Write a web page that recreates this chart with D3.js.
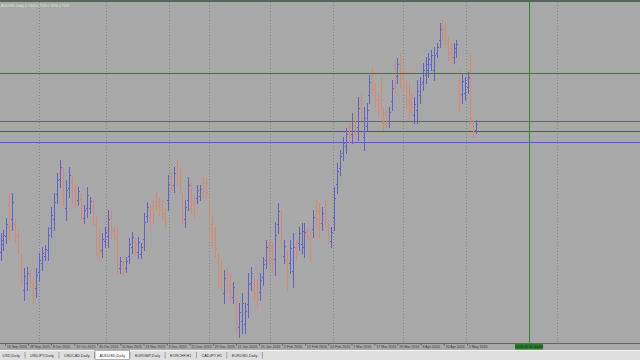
<!DOCTYPE html>
<html>
<head>
<meta charset="utf-8">
<script src="https://cdn.jsdelivr.net/npm/d3@7"></script>
<style>
html, body { margin: 0; padding: 0; background: #a8a8a8; overflow: hidden; }
svg { display: block; }
</style>
</head>
<body>
<svg id="chart" width="640" height="360"></svg>
<script>
// AUDUSD daily bars
var bar_open = [.7094,.7119,.7145,.7244,.7199,.7183,.7145,.7068,.6972,.6994,
 .7023,.6991,.6978,.7030,.7058,.7081,.7100,.7170,.7199,.7279,
 .7327,.7334,.7234,.7298,.7318,.7295,.7260,.7263,.7202,.7234,
 .7234,.7241,.7180,.7142,.7100,.7129,.7145,.7206,.7164,.7135,
 .7042,.7055,.7042,.7081,.7110,.7126,.7094,.7087,.7135,.7209,
 .7225,.7241,.7270,.7254,.7244,.7218,.7260,.7334,.7308,.7369,
 .7343,.7260,.7199,.7260,.7292,.7254,.7266,.7273,.7318,.7314,
 .7228,.7183,.7151,.7062,.7046,.6962,.7023,.7004,.6950,.6921,
 .6854,.6873,.6863,.6927,.6994,.6994,.6982,.6966,.7014,.7068,
 .7113,.7100,.7071,.7183,.7199,.7081,.7068,.7058,.7033,.7116,
 .7122,.7119,.7110,.7164,.7142,.7167,.7238,.7225,.7186,.7238,
 .7177,.7129,.7206,.7311,.7362,.7410,.7433,.7490,.7471,.7503,
 .7494,.7580,.7462,.7498,.7596,.7663,.7615,.7583,.7628,.7538,
 .7535,.7513,.7577,.7682,.7657,.7702,.7663,.7622,.7606,.7586,
 .7532,.7548,.7596,.7638,.7660,.7676,.7695,.7676,.7730,.7772,
 .7820,.7807,.7762,.7746,.7718,.7734,.7644,.7599,.7602,.7622,
 .7676,.7503,.7484];
var bar_high = [.7154,.7164,.7202,.7282,.7282,.7202,.7164,.7090,.7042,.7046,
 .7036,.7014,.7042,.7090,.7110,.7116,.7174,.7238,.7282,.7346,
 .7388,.7366,.7324,.7366,.7340,.7314,.7302,.7282,.7244,.7302,
 .7270,.7260,.7212,.7164,.7154,.7174,.7228,.7228,.7174,.7174,
 .7078,.7068,.7078,.7138,.7158,.7138,.7142,.7122,.7218,.7254,
 .7244,.7260,.7286,.7266,.7260,.7234,.7340,.7350,.7366,.7388,
 .7362,.7282,.7260,.7334,.7314,.7270,.7308,.7308,.7334,.7330,
 .7260,.7206,.7174,.7090,.7068,.7036,.7046,.7026,.6998,.6950,
 .6930,.6962,.6930,.7026,.7046,.7014,.7004,.7026,.7078,.7132,
 .7132,.7126,.7190,.7250,.7228,.7132,.7100,.7132,.7154,.7132,
 .7174,.7186,.7186,.7174,.7164,.7228,.7260,.7250,.7238,.7260,
 .7196,.7174,.7302,.7378,.7420,.7462,.7490,.7506,.7538,.7522,
 .7590,.7602,.7558,.7570,.7660,.7686,.7634,.7602,.7654,.7558,
 .7548,.7558,.7644,.7708,.7714,.7730,.7686,.7644,.7634,.7602,
 .7590,.7644,.7654,.7698,.7718,.7730,.7740,.7750,.7762,.7826,
 .7836,.7826,.7782,.7762,.7762,.7772,.7676,.7666,.7654,.7670,
 .7730,.7516,.7516];
var bar_low = [.7068,.7100,.7122,.7132,.7164,.7126,.7090,.6994,.6940,.6972,
 .6982,.6930,.6950,.7004,.7036,.7068,.7068,.7142,.7164,.7250,
 .7302,.7244,.7196,.7270,.7250,.7238,.7244,.7202,.7186,.7206,
 .7218,.7180,.7084,.7068,.7078,.7110,.7110,.7138,.7132,.7026,
 .7026,.7020,.7030,.7058,.7090,.7084,.7074,.7074,.7100,.7190,
 .7164,.7190,.7228,.7212,.7196,.7174,.7228,.7292,.7286,.7308,
 .7282,.7190,.7174,.7228,.7218,.7206,.7250,.7260,.7270,.7266,
 .7132,.7110,.7078,.6982,.6972,.6930,.6962,.6940,.6930,.6834,
 .6822,.6834,.6834,.6886,.6972,.6940,.6918,.6940,.6988,.7042,
 .7052,.7030,.7020,.7154,.7110,.7058,.6972,.7026,.6982,.7068,
 .7100,.7090,.7078,.7132,.7068,.7142,.7174,.7142,.7164,.7174,
 .7122,.7110,.7164,.7282,.7340,.7388,.7410,.7442,.7442,.7452,
 .7452,.7516,.7420,.7484,.7570,.7602,.7558,.7526,.7548,.7484,
 .7494,.7494,.7548,.7602,.7634,.7622,.7602,.7558,.7516,.7538,
 .7506,.7506,.7570,.7612,.7634,.7654,.7676,.7644,.7718,.7750,
 .7772,.7750,.7708,.7698,.7698,.7718,.7548,.7570,.7580,.7602,
 .7506,.7462,.7474];
var bar_close = [.7132,.7148,.7183,.7177,.7254,.7148,.7113,.7023,.7017,.7026,
 .6998,.6956,.7020,.7068,.7090,.7103,.7148,.7212,.7254,.7324,
 .7366,.7279,.7292,.7340,.7276,.7260,.7289,.7225,.7228,.7276,
 .7257,.7202,.7122,.7097,.7135,.7158,.7199,.7164,.7145,.7071,
 .7065,.7033,.7065,.7119,.7142,.7100,.7126,.7110,.7190,.7238,
 .7190,.7212,.7244,.7228,.7215,.7193,.7311,.7308,.7346,.7330,
 .7305,.7218,.7238,.7308,.7247,.7225,.7292,.7295,.7289,.7286,
 .7170,.7138,.7106,.7014,.7001,.7010,.6988,.6966,.6982,.6870,
 .6902,.6930,.6905,.6991,.7026,.6962,.6943,.7004,.7055,.7110,
 .7074,.7058,.7148,.7225,.7145,.7113,.7010,.7106,.7110,.7087,
 .7154,.7161,.7158,.7145,.7097,.7206,.7199,.7174,.7218,.7199,
 .7145,.7158,.7266,.7353,.7401,.7442,.7471,.7462,.7513,.7474,
 .7554,.7542,.7522,.7548,.7638,.7628,.7580,.7548,.7580,.7506,
 .7498,.7542,.7618,.7634,.7695,.7654,.7628,.7583,.7551,.7558,
 .7567,.7609,.7631,.7676,.7695,.7711,.7724,.7724,.7750,.7807,
 .7791,.7772,.7730,.7718,.7746,.7759,.7586,.7641,.7634,.7654,
 .7522,.7478,.7503];

// time scale labels (bar position of each label)
var label_bars = [1.5,9.2,16.9,24.7,32.4,40.1,47.9,55.7,63.4,71.2,79.0,
 86.7,94.5,102.2,110.0,117.8,125.8,134.0,142.3,150.5,158.8];
var label_text = ["16 Sep 2015","28 Sep 2015","8 Oct 2015","20 Oct 2015","30 Oct 2015",
 "11 Nov 2015","23 Nov 2015","3 Dec 2015","15 Dec 2015","29 Dec 2015","11 Jan 2016",
 "21 Jan 2016","2 Feb 2016","12 Feb 2016","24 Feb 2016","7 Mar 2016","17 Mar 2016",
 "29 Mar 2016","8 Apr 2016","20 Apr 2016","2 May 2016"];
var grid_bars = [12.9,35.3,56.5,69.9,90.4,111.6,136.0,158.4,190.9];

var level_price = [0.7513, 0.7481, 0.7446];
var level_color = ["#5c5cc0", "#50507c", "#5c5cc0"];
var cross_bar = 180.9, cross_price = 0.7666;
var cross_label = "2016.05.31 00:00";
var title_text = "AUDUSD,Daily  0.7503 0.7516 0.7474 0.7503";

var tabs = ["USD,Daily","USDJPY,Daily","USDCAD,Daily","AUDUSD,Daily","EURGBP,Daily","EURCHF,H1","CADJPY,H1","EURUSD,Daily"];
var active_tab = "AUDUSD,Daily";

var W = 640, H = 360;
var plot_bottom = 343, tab_top = 350;
var font = "Liberation Sans, Arial, sans-serif";

var svg = d3.select("#chart");

svg.append("rect").attr("width", W).attr("height", H).attr("fill", "#a8a8a8");

// bar index -> pixel, pinned where the screenshot's bars sit
var x = d3.scaleLinear().domain([0, 40, 81, 121, 162]).range([0.5, 120, 242, 361, 476]);
var y = d3.scaleLinear().domain([0.6748, 0.79]).range([360, 0]);

var plot = svg.append("g").attr("shape-rendering", "crispEdges");

// vertical dotted grid
plot.selectAll(".vgrid")
    .data(grid_bars)
  .enter().append("line")
    .attr("class", "vgrid")
    .attr("x1", d => Math.round(x(d)) + 0.5).attr("x2", d => Math.round(x(d)) + 0.5)
    .attr("y1", 2).attr("y2", plot_bottom)
    .attr("stroke", "#7c8c7c")
    .attr("stroke-dasharray", "1,2");

// horizontal levels
plot.selectAll(".level")
    .data(level_price)
  .enter().append("line")
    .attr("class", "level")
    .attr("x1", 0).attr("x2", W)
    .attr("y1", d => Math.round(y(d)) + 0.5).attr("y2", d => Math.round(y(d)) + 0.5)
    .attr("stroke", (d, i) => level_color[i]);

// OHLC bars
var bars = d3.range(bar_high.length).map(function(i) {
    return {i: i, o: bar_open[i], h: bar_high[i], l: bar_low[i], c: bar_close[i]};
});
var bar_g = plot.selectAll(".bar")
    .data(bars)
  .enter().append("g")
    .attr("class", "bar")
    .attr("stroke", d => d.c >= d.o ? "#6262c8" : "#d48a70");

bar_g.append("line")
    .attr("x1", d => Math.round(x(d.i)) + 0.5).attr("x2", d => Math.round(x(d.i)) + 0.5)
    .attr("y1", d => Math.round(y(d.h))).attr("y2", d => Math.round(y(d.l)) + 1);
bar_g.append("line")
    .attr("x1", d => Math.round(x(d.i)) - 1).attr("x2", d => Math.round(x(d.i)))
    .attr("y1", d => Math.round(y(d.o)) + 0.5).attr("y2", d => Math.round(y(d.o)) + 0.5);
bar_g.append("line")
    .attr("x1", d => Math.round(x(d.i)) + 1).attr("x2", d => Math.round(x(d.i)) + 2)
    .attr("y1", d => Math.round(y(d.c)) + 0.5).attr("y2", d => Math.round(y(d.c)) + 0.5);

// crosshair
plot.append("line")
    .attr("x1", 0).attr("x2", W)
    .attr("y1", Math.round(y(cross_price)) + 0.5).attr("y2", Math.round(y(cross_price)) + 0.5)
    .attr("stroke", "#4c6e4c");
plot.append("line")
    .attr("x1", Math.round(x(cross_bar)) + 0.5).attr("x2", Math.round(x(cross_bar)) + 0.5)
    .attr("y1", 2).attr("y2", plot_bottom + 6)
    .attr("stroke", "#2e8a2e");

// top border + symbol line
svg.append("rect").attr("x", 0).attr("y", 0).attr("width", W).attr("height", 2).attr("fill", "#56665a");
svg.append("text")
    .attr("x", 1).attr("y", 7)
    .attr("font-family", font)
    .attr("font-size", "3.4px")
    .attr("fill", "#d8efd8")
    .text(title_text);

// time axis
var xAxis = d3.axisBottom(x)
    .tickValues(label_bars)
    .tickFormat((d, i) => label_text[i])
    .tickSize(2)
    .tickSizeOuter(0);
var ax = svg.append("g")
    .attr("transform", `translate(0,${plot_bottom + 0.5})`)
    .call(xAxis);
ax.select(".domain").attr("stroke", "#5a6a5a").attr("d", `M0,0H${W}`);
ax.selectAll(".tick line").attr("stroke", "#5a6a5a");
ax.selectAll(".tick text")
    .attr("y", 4.8)
    .attr("dy", 0)
    .attr("x", 1.2)
    .attr("text-anchor", "start")
    .attr("font-family", font)
    .attr("font-size", "3.6px")
    .attr("fill", "#3c3c3c");

// crosshair date box
var cx = Math.round(x(cross_bar));
svg.append("rect")
    .attr("x", cx - 14).attr("y", plot_bottom + 1).attr("width", 28).attr("height", 5.5)
    .attr("fill", "#2e7d2e");
svg.append("text")
    .attr("x", cx).attr("y", plot_bottom + 5.3)
    .attr("text-anchor", "middle")
    .attr("font-family", font)
    .attr("font-size", "3.6px")
    .attr("fill", "#0c2a0c")
    .text(cross_label);

// tab bar
svg.append("rect").attr("x", 0).attr("y", tab_top).attr("width", W).attr("height", H - tab_top).attr("fill", "#dedede");
svg.append("line").attr("x1", 0).attr("x2", W).attr("y1", tab_top + 0.5).attr("y2", tab_top + 0.5).attr("stroke", "#f4f4f4");

var tab_g = svg.append("g");
var cursor = -2;
tabs.forEach(function(name, i) {
    var t = tab_g.append("text")
        .attr("x", cursor + 4.5).attr("y", tab_top + 6.8)
        .attr("font-family", font)
        .attr("font-size", "3.8px")
        .attr("fill", "#333")
        .text(name);
    var w = t.node().getComputedTextLength() + 9;
    if (name == active_tab) {
        tab_g.insert("rect", "text")
            .attr("x", cursor).attr("y", tab_top + 0.5).attr("width", w).attr("height", 9)
            .attr("fill", "#fafafa").attr("stroke", "#8a8a8a").attr("stroke-width", 0.6);
    }
    cursor += w;
    tab_g.append("line")
        .attr("x1", cursor + 0.5).attr("x2", cursor + 0.5)
        .attr("y1", tab_top + 2).attr("y2", tab_top + 8.5)
        .attr("stroke", "#777").attr("stroke-width", 0.6);
    cursor += 1;
});
</script>
</body>
</html>
